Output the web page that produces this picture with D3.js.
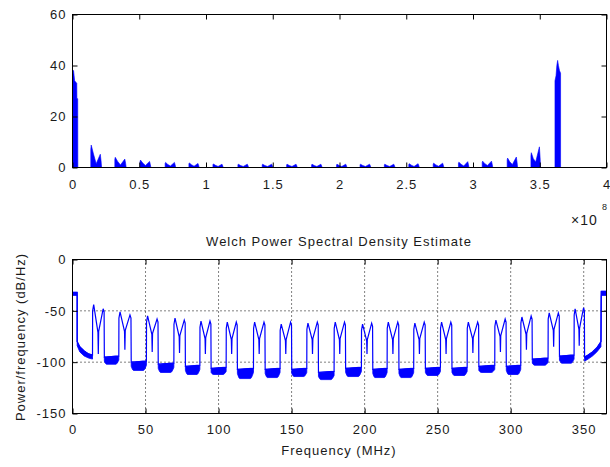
<!DOCTYPE html>
<html>
<head>
<meta charset="utf-8">
<script src="https://cdn.jsdelivr.net/npm/d3@7"></script>
<style>
body { margin: 0; background: #fff; }
svg text { font-family: "Liberation Sans", Arial, sans-serif; font-size: 13px; letter-spacing: 1px; fill: #1a1a1a; }
</style>
</head>
<body>
<svg id="drawing_region"></svg>
<script>
// channel edges, MHz
const chStart = [13.7, 31.7, 50.6, 69.4, 87.2, 105.2, 123.9, 142.1, 160.4, 179.1, 197.8, 215.4, 233.6, 251.9, 270.2, 289.1, 306.9, 325.6, 343.4]
const chEnd   = [21.8, 40.2, 58.7, 77.3, 94.9, 112.9, 131.9, 150.1, 168.4, 187.0, 205.6, 223.5, 241.6, 259.8, 278.2, 297.0, 314.8, 333.4, 350.6]

// Welch PSD, dB/Hz: two shoulders, middle notch, notch spike
const psdPeakL = [-44, -51, -55, -57, -60, -61, -61, -63, -62, -61, -63, -61, -62, -61, -61, -59, -56, -52, -48]
const psdPeakR = [-48, -54, -58, -59, -60, -61, -61, -61, -61, -61, -62, -61, -61, -61, -61, -58, -55, -52, -47]
const psdDip   = [-71, -70, -73, -75, -77, -78, -78, -79, -78, -78, -79, -78, -78, -78, -77, -75, -73, -69, -68]
const psdSpike = [-92, -88, -90, -91, -92, -92, -92, -92, -92, -92, -92, -92, -92, -92, -91, -90, -88, -85, -84]

// noise floor between channels (top / bottom of the noisy band)
const gapTop = [-95, -100, -102, -104, -106, -107, -107, -107, -110, -106, -107, -107, -106, -106, -104, -104, -97, -94]
const gapBot = [-102, -108, -110, -112, -112, -116, -115, -114, -117, -114, -115, -115, -113, -113, -110, -112, -103, -101]

// both ends of the PSD
const headFreq = [0, 3.2, 3.2, 5, 8, 11, 13.7]
const headHi   = [-32, -32, -80, -85, -89, -92, -93]
const headLo   = [-35, -35, -84, -90, -94, -96, -97]
const tailFreq = [350.6, 353, 356, 359, 361.8, 362.0, 365.6]
const tailHi   = [-95, -93, -90, -86, -80, -31, -31]
const tailLo   = [-99, -97, -94, -90, -85, -35, -35]

// FFT magnitude (top panel)
const magPeakL = [8.8, 4.0, 2.9, 2.0, 1.8, 1.4, 1.3, 1.3, 1.3, 1.3, 1.3, 1.3, 1.3, 1.5, 1.7, 2.1, 2.5, 3.7, 5.8]
const magPeakR = [5.2, 3.3, 2.4, 2.0, 1.6, 1.3, 1.3, 1.3, 1.3, 1.3, 1.3, 1.3, 1.3, 1.5, 1.7, 2.3, 2.5, 4.1, 8.1]
const magDip   = [1.5, 1.0, 0.8, 0.6, 0.5, 0.4, 0.4, 0.4, 0.4, 0.4, 0.4, 0.4, 0.4, 0.4, 0.5, 0.6, 0.8, 1.2, 2.2]
const headMagFreq = [0, 0, 0.8, 1.2, 1.6, 3.2, 3.3, 3.9, 4.0]
const headMag     = [0, 38, 38, 36, 34, 33, 27, 27, 0]
const tailMagFreq = [361.4, 361.4, 362.2, 362.8, 363.4, 364.0, 364.8, 365.6, 365.6]
const tailMag     = [0, 34, 36, 40, 42, 40, 38, 37, 0]
const fMax = 365.6

// ticks
const topXTicks = [0, 0.5e8, 1e8, 1.5e8, 2e8, 2.5e8, 3e8, 3.5e8, 4e8]
const topYTicks = [0, 20, 40, 60]
const botXTicks = [0, 50, 100, 150, 200, 250, 300, 350]
const botYTicks = [-150, -100, -50, 0]

const blue = '#0000ff'
const left = 72.5, right = 606.5

const svg = d3.select('#drawing_region').attr('width', 610).attr('height', 467)

function frame(x, y, xTicks, yTicks, xFmt, yTop, yBot, xPad){
    const drop = a => a.select('.domain').remove()
    svg.append('g').attr('transform', `translate(0,${yBot})`)
        .call(d3.axisBottom(x).tickValues(xTicks).tickFormat(xFmt).tickSize(-5).tickSizeOuter(0).tickPadding(xPad)).call(drop)
    svg.append('g').attr('transform', `translate(0,${yTop})`)
        .call(d3.axisTop(x).tickValues(xTicks).tickFormat('').tickSize(-5).tickSizeOuter(0)).call(drop)
    svg.append('g').attr('transform', `translate(${left},0)`)
        .call(d3.axisLeft(y).tickValues(yTicks).tickFormat(d => String(d)).tickSize(-5).tickSizeOuter(0).tickPadding(6)).call(drop)
    svg.append('g').attr('transform', `translate(${right},0)`)
        .call(d3.axisRight(y).tickValues(yTicks).tickFormat('').tickSize(-5).tickSizeOuter(0)).call(drop)
    svg.append('rect')
        .attr('x', left).attr('y', yTop)
        .attr('width', right - left).attr('height', yBot - yTop)
        .attr('fill', 'none').attr('stroke', '#000')
}

// ---------- top panel: FFT magnitude ----------
const xTop = d3.scaleLinear().domain([0, 4e8]).range([left, right])
const yTop = d3.scaleLinear().domain([0, 60]).range([167.5, 14.5])
const magArea = d3.area().x(d => xTop(d[0] * 1e6)).y0(yTop(0)).y1(d => yTop(d[1]))

const magShapes = [headMagFreq.map((f, i) => [f, headMag[i]])]
chStart.forEach((s, i) => {
    const w = chEnd[i] - s, L = magPeakL[i], R = magPeakR[i]
    magShapes.push([[s, 0], [s, 0.8*L], [s + 0.04*w, L], [s + 0.25*w, 0.6*L], [s + 0.5*w, magDip[i]],
        [s + 0.88*w, R], [s + 0.95*w, 0.5*R], [chEnd[i], 0]])
})
magShapes.push(tailMagFreq.map((f, i) => [f, tailMag[i]]))

svg.append('line')
    .attr('x1', xTop(0)).attr('x2', xTop(fMax * 1e6))
    .attr('y1', yTop(0)).attr('y2', yTop(0))
    .attr('stroke', blue)
svg.append('g').selectAll('path').data(magShapes).join('path')
    .attr('d', magArea)
    .attr('fill', blue).attr('stroke', blue).attr('stroke-width', 0.6)

frame(xTop, yTop, topXTicks, topYTicks, d => String(d / 1e8), 14.5, 167.5, 12)

svg.append('text').attr('x', 571).attr('y', 225).style('font-size', '14px').text('×10')
svg.append('text').attr('x', 602).attr('y', 210).style('font-size', '9px').style('letter-spacing', '0px').text('8')

// ---------- bottom panel: Welch PSD ----------
const xBot = d3.scaleLinear().domain([0, fMax]).range([left, right])
const yBot = d3.scaleLinear().domain([-150, 0]).range([413.5, 259.5])

// grid
svg.append('g').selectAll('line').data(botXTicks.slice(1)).join('line')
    .attr('x1', d => xBot(d)).attr('x2', d => xBot(d))
    .attr('y1', yBot(0)).attr('y2', yBot(-150))
    .attr('stroke', '#000').attr('stroke-dasharray', '1,3')
svg.append('g').selectAll('line').data([-50, -100]).join('line')
    .attr('x1', left).attr('x2', right)
    .attr('y1', d => yBot(d)).attr('y2', d => yBot(d))
    .attr('stroke', '#000').attr('stroke-dasharray', '1,3')

// noisy floor bands
const bands = [headFreq.map((f, i) => [f, headHi[i], headLo[i]])]
gapTop.forEach((t, i) => {
    const a = chEnd[i], b = chStart[i + 1], gw = b - a
    bands.push([[a, t, t - 4], [a + 0.15*gw, t, gapBot[i]], [b - 0.2*gw, t + 1, gapBot[i]], [b, t + 1, t - 3]])
})
bands.push(tailFreq.map((f, i) => [f, tailHi[i], tailLo[i]]))
const bandArea = d3.area()
    .x(d => xBot(d[0])).y0(d => yBot(d[2])).y1(d => yBot(d[1]))

svg.append('g').selectAll('path').data(bands).join('path')
    .attr('d', (d, i) => (i === 0 || i === bands.length - 1) ? bandArea.curve(d3.curveLinear)(d) : bandArea.curve(d3.curveMonotoneX)(d))
    .attr('fill', blue).attr('stroke', blue).attr('stroke-width', 0.8)

// trace
const trace = headFreq.map((f, i) => [f, headHi[i]])
chStart.forEach((s, i) => {
    const e = chEnd[i], w = e - s
    const before = i === 0 ? headHi[headHi.length - 1] : gapTop[i - 1] + 1
    const after = i < gapTop.length ? gapTop[i] : tailHi[0]
    trace.push([s, before], [s + 0.01*w, psdPeakL[i] - 6], [s + 0.1*w, psdPeakL[i]],
        [s + 0.46*w, psdDip[i]], [s + 0.49*w, psdSpike[i]], [s + 0.52*w, psdDip[i] + 1],
        [s + 0.9*w, psdPeakR[i]], [e - 0.02*w, psdPeakR[i] - 3], [e, after])
})
tailFreq.forEach((f, i) => trace.push([f, tailHi[i]]))

svg.append('path')
    .attr('d', d3.line().x(d => xBot(d[0])).y(d => yBot(d[1]))(trace))
    .attr('fill', 'none').attr('stroke', blue).attr('stroke-width', 1.2)

frame(xBot, yBot, botXTicks, botYTicks, d => String(d), 259.5, 413.5, 11)

svg.append('text').attr('x', 339).attr('y', 246).attr('text-anchor', 'middle')
    .text('Welch Power Spectral Density Estimate')
svg.append('text').attr('x', 339).attr('y', 455).attr('text-anchor', 'middle')
    .text('Frequency (MHz)')
svg.append('text').attr('transform', 'translate(25,337) rotate(-90)').attr('text-anchor', 'middle')
    .text('Power/frequency (dB/Hz)')
</script>
</body>
</html>
